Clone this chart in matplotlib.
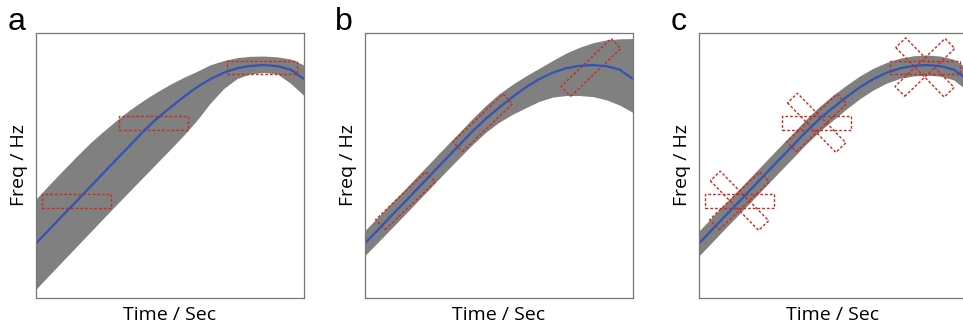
import matplotlib.pyplot as plt
from matplotlib.patches import Rectangle

plt.rcParams['font.family'] = ['Open Sans', 'DejaVu Sans']

# common time grid (arbitrary units, 0-100 across each panel)
time = [0, 5, 10, 15, 20, 25, 30, 35, 40, 45, 50, 55, 60, 65, 70, 75, 80, 85, 90, 95, 100]

# blue ridge line, identical in all three panels
freq = [20.6, 25.9, 31.2, 36.4, 41.7, 47.0, 52.3, 57.5, 62.8, 67.6, 71.8, 75.8,
        79.5, 82.6, 85.0, 86.7, 87.6, 87.9, 87.5, 86.2, 82.6]

# grey band edges, panel a
a_upper = [37.4, 42.8, 48.1, 53.3, 58.3, 62.8, 67.0, 71.0, 74.5, 77.7, 80.6, 83.2,
           85.5, 88.0, 89.6, 90.7, 91.2, 91.3, 91.0, 90.2, 87.9]
a_lower = [3.3, 8.7, 14.0, 19.3, 24.6, 29.9, 35.2, 40.4, 45.6, 50.8, 56.0, 61.3,
           67.0, 73.5, 79.0, 82.8, 84.6, 85.1, 84.6, 81.0, 76.4]

# grey band edges, panel b
b_upper = [25.5, 30.7, 36.0, 41.2, 46.5, 51.8, 57.1, 62.3, 67.6, 72.6, 77.0, 80.6,
           83.8, 86.7, 89.6, 92.4, 94.6, 96.3, 97.4, 97.8, 97.9]
b_lower = [16.1, 21.2, 26.4, 31.6, 36.9, 42.2, 47.5, 52.7, 57.8, 62.5, 66.3, 69.3,
           71.8, 74.2, 75.8, 76.4, 76.4, 76.0, 74.8, 72.8, 70.0]

# half width of the narrow band, panel c
c_halfwidth = [4.7, 4.7, 4.7, 4.7, 4.7, 4.7, 4.7, 4.7, 4.7, 4.7, 4.7, 4.5,
               4.3, 4.1, 3.9, 3.8, 3.8, 3.8, 3.8, 3.9, 4.2]

# dotted search windows
box_x = [15.1, 43.9, 84.3]
box_y = [36.7, 66.1, 87.0]
box_w = 26.0
box_h = 5.2
a_angles = [0]
b_angles = [44]
c_angles = [0, 44, -46]

panels = ['a', 'b', 'c']

GREY = '#808080'
BLUE = '#3652b4'
RED = '#cc2a1e'


def draw_panel(ax, upper, lower, angles):
    ax.fill_between(time, lower, upper, color=GREY, lw=0)
    ax.plot(time, freq, color=BLUE, lw=1.6, solid_capstyle='butt')
    for cx, cy in zip(box_x, box_y):
        for ang in angles:
            ax.add_patch(Rectangle((cx - box_w / 2, cy - box_h / 2), box_w, box_h,
                                   angle=ang, rotation_point='center', fill=False,
                                   edgecolor=RED, lw=1.0, linestyle=(0, (2, 1.4))))
    ax.set_xlim(0, 100)
    ax.set_ylim(0, 100)
    ax.set_xticks([])
    ax.set_yticks([])
    for sp in ax.spines.values():
        sp.set_color('#777777')
        sp.set_linewidth(0.9)
    ax.set_xlabel('Time / Sec', fontsize=14, labelpad=6)
    ax.set_ylabel('Freq / Hz', fontsize=14, labelpad=6)


fig = plt.figure(figsize=(9.63, 3.26), dpi=100)
lefts = [36, 365, 699]
letter_x = [8, 335, 671]
W, H = 963.0, 326.0

c_upper = [f + h for f, h in zip(freq, c_halfwidth)]
c_lower = [f - h for f, h in zip(freq, c_halfwidth)]
bands = [(a_upper, a_lower, a_angles), (b_upper, b_lower, b_angles), (c_upper, c_lower, c_angles)]

for left, lx, name, (up, lo, angs) in zip(lefts, letter_x, panels, bands):
    ax = fig.add_axes([left / W, 28 / H, 268 / W, 265 / H])
    draw_panel(ax, up, lo, angs)
    fig.text(lx / W, 1 - 30 / H, name, fontsize=23, family=['Liberation Sans', 'DejaVu Sans'],
             ha='left', va='baseline')

fig.savefig('out.png', dpi=100)
